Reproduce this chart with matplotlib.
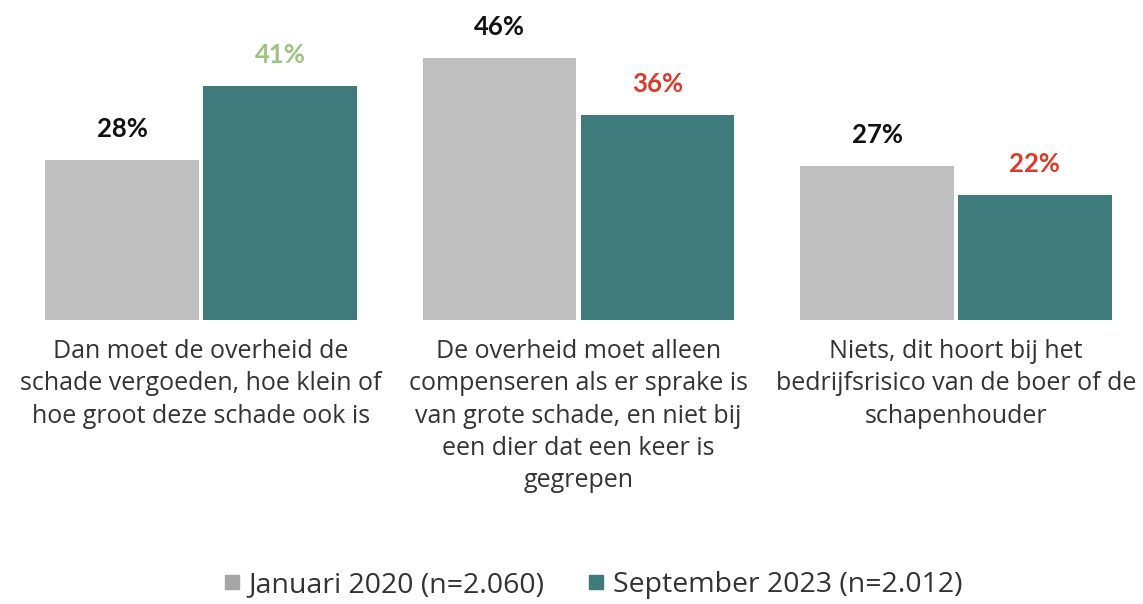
import matplotlib.pyplot as plt
from matplotlib.lines import Line2D
import numpy as np

plt.rcParams['font.family'] = ['Open Sans', 'DejaVu Sans']

# data
categorieen = [
    "Dan moet de overheid de\nschade vergoeden, hoe klein of\nhoe groot deze schade ook is",
    "De overheid moet alleen\ncompenseren als er sprake is\nvan grote schade, en niet bij\neen dier dat een keer is\ngegrepen",
    "Niets, dit hoort bij het\nbedrijfsrisico van de boer of de\nschapenhouder",
]
jan_2020 = [28, 46, 27]
sep_2023 = [41, 36, 22]
label_kleuren_2023 = ["#9BC47F", "#E0392B", "#E0392B"]
series_namen = ["Januari 2020 (n=2.060)", "September 2023 (n=2.012)"]

grijs = "#BFBFBF"
teal = "#3F7B7B"

fig = plt.figure(figsize=(11.43, 6.04), dpi=100)
ax = fig.add_axes([0, 1 - 320 / 604, 1, 320 / 604])

x = np.arange(len(categorieen))
breedte = 0.407
offset = 0.209

ax.bar(x - offset, jan_2020, breedte, color=grijs)
ax.bar(x + offset, sep_2023, breedte, color=teal)

for i in range(len(x)):
    ax.text(x[i] - offset, jan_2020[i] + 3.3, f"{jan_2020[i]}%", ha='center', va='bottom',
            fontsize=18.5, fontweight='bold', color='#111111', family=['Lato', 'DejaVu Sans'])
    ax.text(x[i] + offset, sep_2023[i] + 3.3, f"{sep_2023[i]}%", ha='center', va='bottom',
            fontsize=18.5, fontweight='bold', color=label_kleuren_2023[i], family=['Lato', 'DejaVu Sans'])

ax.set_xlim(-201 / 377.5, (1143 - 201) / 377.5)
ax.set_ylim(0, 56.1)
ax.axis('off')

for i, tekst in enumerate(categorieen):
    ax.text(x[i], -0.06, tekst, transform=ax.get_xaxis_transform(), ha='center', va='top',
            fontsize=18, color='#333333', linespacing=1.38)

handles = [Line2D([], [], marker='s', linestyle='none', markersize=10, color='#A6A6A6'),
           Line2D([], [], marker='s', linestyle='none', markersize=10, color=teal)]
fig.legend(handles, series_namen, loc='center', bbox_to_anchor=(590 / 1143, 1 - 585 / 604),
           ncol=2, frameon=False, fontsize=20.5, handletextpad=0.1, columnspacing=1.3,
           labelcolor='#333333', handlelength=1.0)

fig.savefig("out.png", dpi=100)
